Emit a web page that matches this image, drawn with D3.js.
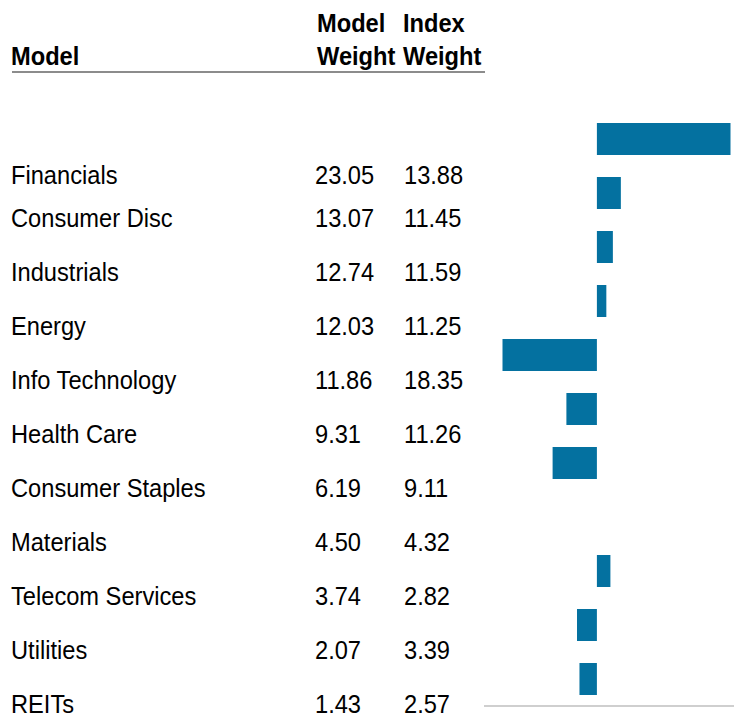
<!DOCTYPE html>
<html>
<head>
<meta charset="utf-8">
<script src="https://cdn.jsdelivr.net/npm/d3@7"></script>
<style>
  body { margin: 0; background: #fff; }
  text { font-family: "Liberation Sans", Arial, Helvetica, sans-serif; fill: #000; }
</style>
</head>
<body>
<div id="chart"></div>
<script>
// DATA ----------------------------------------------
const sectors = ["Financials", "Consumer Disc", "Industrials", "Energy", "Info Technology",
  "Health Care", "Consumer Staples", "Materials", "Telecom Services", "Utilities", "REITs"];
const modelWeight = ["23.05", "13.07", "12.74", "12.03", "11.86", "9.31", "6.19", "4.50", "3.74", "2.07", "1.43"];
const indexWeight = ["13.88", "11.45", "11.59", "11.25", "18.35", "11.26", "9.11", "4.32", "2.82", "3.39", "2.57"];
// active weight bars
const activeWeight = [9.2, 1.65, 1.1, 0.65, -6.5, -2.1, -3.05, 0, 0.93, -1.37, -1.2];

const width = 734, height = 718;
const sx = 0.91; // the table text is a narrow face

const svg = d3.select("#chart").append("svg")
  .attr("width", width)
  .attr("height", height);

const y = d3.scaleBand()
  .domain(sectors)
  .range([112, 706])
  .paddingInner(0.4074)
  .paddingOuter(0.2037);

const x = d3.scaleLinear()
  .domain([-6.5, 9.2])
  .range([502.5, 730.5]);

function label(g, txt, px, py, bold) {
  g.append("text")
    .attr("transform", "translate(" + px + "," + py + ") scale(" + sx + ",1)")
    .attr("font-size", 26)
    .attr("font-weight", bold ? "bold" : "normal")
    .text(txt);
}

// header
const head = svg.append("g");
label(head, "Model", 11, 65, true);
label(head, "Model", 317, 32, true);
label(head, "Weight", 317, 65, true);
label(head, "Index", 403, 32, true);
label(head, "Weight", 403, 65, true);

svg.append("line")
  .attr("x1", 12).attr("x2", 485)
  .attr("y1", 72).attr("y2", 72)
  .attr("stroke", "#666")
  .attr("stroke-width", 1.5);

// table rows
const rows = svg.append("g");
sectors.forEach((s, i) => {
  const base = y(s) + y.bandwidth() / 2 + 34 + (i === 0 ? 11 : 0);
  label(rows, s, 11, base, false);
  label(rows, modelWeight[i], 315, base, false);
  label(rows, indexWeight[i], 404, base, false);
});

// bars
svg.selectAll(".bar")
  .data(sectors)
  .enter()
  .append("rect")
  .attr("class", "bar")
  .attr("x", (d, i) => x(Math.min(0, activeWeight[i])))
  .attr("y", (d) => y(d))
  .attr("width", (d, i) => Math.abs(x(activeWeight[i]) - x(0)))
  .attr("height", y.bandwidth())
  .attr("fill", "#0471a0");

svg.append("line")
  .attr("x1", 484).attr("x2", 734)
  .attr("y1", 706).attr("y2", 706)
  .attr("stroke", "#cfcfcf")
  .attr("stroke-width", 2);
</script>
</body>
</html>
